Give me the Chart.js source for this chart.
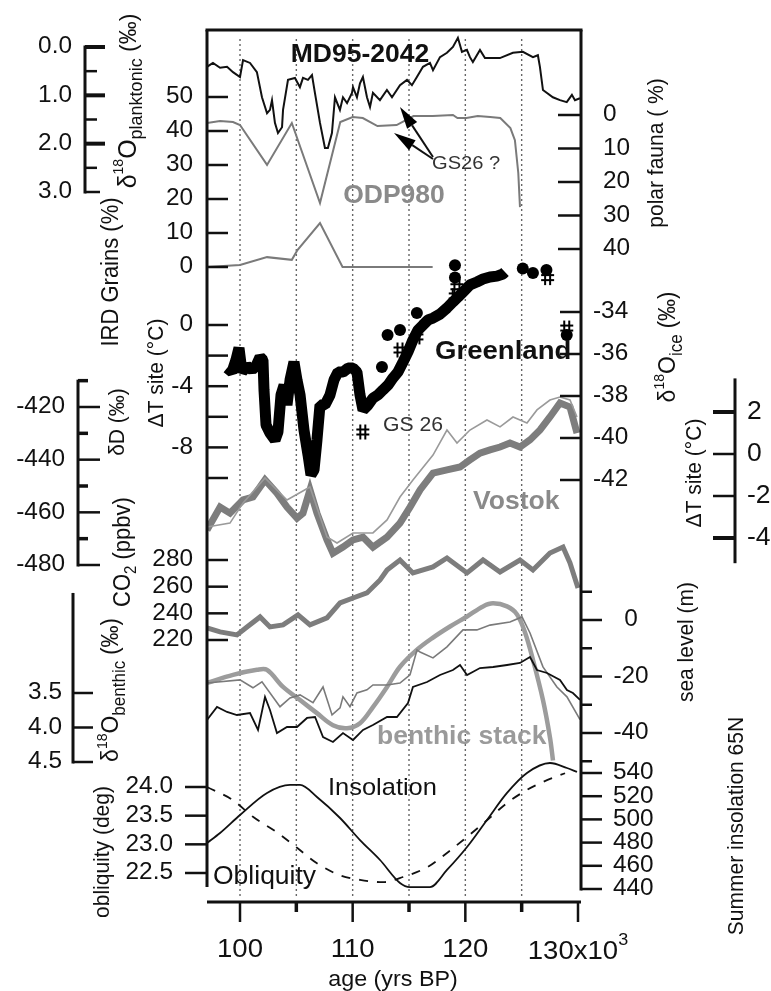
<!DOCTYPE html>
<html><head><meta charset="utf-8">
<script src="https://cdn.jsdelivr.net/npm/chart.js@4.4.0/dist/chart.umd.min.js"></script>
<style>html,body{margin:0;padding:0;background:#fff}canvas{display:block}</style>
</head><body>
<canvas id="c" width="771" height="991"></canvas>
<script>
// ---------------- DATA (age in kyr BP, value) ----------------
const planktonic = [[97.07,0.41],[97.6,0.33],[98.23,0.43],[98.85,0.41],[99.38,0.52],[100.0,0.62],[100.27,0.27],[100.89,0.33],[101.5,0.52],[101.95,1.04],[102.4,1.37],[102.66,1.30],[102.84,1.10],[103.1,1.57],[103.37,1.78],[103.73,1.66],[103.82,1.30],[104.26,0.68],[104.88,0.64],[105.32,0.83],[105.59,0.64],[106.03,0.68],[106.39,0.58],[106.65,0.95],[107.1,1.57],[107.54,2.09],[107.8,2.09],[108.16,1.78],[108.43,1.04],[108.87,1.30],[109.14,1.04],[109.5,1.16],[109.94,0.95],[110.03,0.83],[110.38,1.04],[110.65,0.75],[110.91,0.62],[111.27,1.04],[111.54,1.24],[111.8,0.95],[112.42,1.10],[113.04,0.89],[113.49,1.04],[114.2,0.79],[114.82,0.68],[115.26,0.79],[115.7,0.62],[116.24,0.41],[116.86,0.33],[117.13,0.48],[117.75,0.21],[118.37,0.12],[118.9,0.0],[119.34,-0.19],[119.7,0.10],[120.14,0.06],[120.41,0.21],[120.67,0.31],[121.3,0.06],[121.74,0.23],[122.18,0.23],[123.07,0.23],[124.22,0.12],[125.11,0.10],[126.0,0.21],[126.44,0.17],[126.62,0.41],[126.89,0.89],[127.77,1.04],[128.4,1.10],[129.0,1.14],[129.46,0.99],[129.73,1.10],[130.17,1.06]];
const polarFauna = [[97.07,2.4],[98.23,1.8],[99.38,2.1],[100.0,3.0],[102.4,14.9],[104.6,2.4],[107.1,26.3],[108.9,2.1],[110.0,0.6],[110.9,0.9],[112.2,3.3],[113.9,3.0],[115.4,0.3],[117.1,0.3],[118.9,0.0],[119.3,0.9],[120.1,0.9],[121.1,0.3],[122.2,0.6],[123.1,0.9],[124.0,3.9],[124.4,7.5],[124.7,17.3],[124.85,27.5]];
const irdGrains = [[97.07,0],[100.0,0.6],[102.4,2.9],[104.6,2.1],[105.1,5.0],[107.1,12.9],[109.1,0],[113.0,0],[117.1,0]];
const greenlandD18O = [[98.85,-36.67],[99.29,-36.86],[99.64,-36.29],[99.91,-35.71],[100.18,-36.86],[100.62,-36.57],[101.07,-36.76],[101.42,-36.57],[101.78,-36.14],[102.04,-36.29],[102.13,-37.71],[102.31,-39.38],[102.66,-39.76],[103.11,-40.10],[103.37,-39.71],[103.64,-37.95],[103.91,-37.48],[104.17,-38.43],[104.44,-37.24],[104.79,-36.38],[105.06,-37.24],[105.33,-37.95],[105.68,-39.62],[106.04,-40.81],[106.30,-41.76],[106.57,-41.52],[106.83,-40.10],[107.10,-38.43],[107.54,-38.43],[107.99,-37.95],[108.34,-37.24],[108.70,-36.86],[109.14,-36.86],[109.59,-36.67],[110.03,-36.67],[110.38,-36.86],[110.65,-37.95],[110.92,-38.67],[111.36,-38.43],[111.80,-38.10],[112.25,-37.95],[112.69,-37.71],[113.14,-37.48],[113.58,-37.14],[114.02,-36.86],[114.47,-36.38],[114.91,-35.90],[115.35,-35.33],[115.80,-34.86],[116.24,-34.62],[116.69,-34.38],[117.13,-34.29],[117.75,-34.10],[118.37,-33.81],[118.90,-33.52],[119.35,-33.29],[119.79,-33.05],[120.41,-32.71],[121.03,-32.57],[121.57,-32.43],[122.19,-32.33],[122.81,-32.29],[123.34,-32.19],[123.52,-32.10]];
const greenlandDots = [[119.08,3.9],[119.08,3.1],[125.1,3.7],[126.0,3.4],[127.2,3.6],[129.0,-0.65],[115.7,0.78],[114.2,-0.33],[113.1,-0.65],[112.6,-2.75]];
const greenlandHash = [[119.25,2.5],[119.1,1.9],[127.3,3.1],[129.0,-0.2],[114.2,-1.63],[115.7,-0.78],[110.9,-6.99]];
const vostokDD = [[97.07,-466.7],[98.23,-458.0],[99.11,-460.3],[100.27,-455.3],[101.15,-454.2],[102.22,-447.7],[103.28,-452.7],[104.17,-458.0],[105.06,-462.2],[105.59,-460.3],[106.21,-451.5],[106.83,-460.3],[107.72,-470.5],[108.25,-475.5],[109.14,-473.2],[110.03,-470.5],[110.92,-469.4],[111.80,-473.2],[113.05,-469.4],[114.20,-464.1],[115.09,-458.0],[115.98,-451.5],[117.13,-445.1],[118.37,-443.9],[119.53,-442.8],[120.41,-440.1],[121.30,-437.5],[122.19,-436.3],[123.08,-435.2],[123.96,-433.7],[124.85,-435.2],[125.74,-432.5],[126.63,-428.7],[127.51,-423.8],[128.40,-418.5],[129.29,-420.0],[129.91,-429.9]];
const vostokDT = [[97.07,-3.48],[99.11,-3.29],[100.27,-2.33],[102.22,-1.14],[104.17,-2.19],[106.21,-1.57],[107.72,-3.95],[108.61,-4.24],[110.03,-3.76],[111.80,-3.76],[113.05,-3.14],[114.20,-2.05],[115.35,-1.24],[117.13,-0.05],[118.37,1.14],[119.26,0.52],[120.41,1.14],[121.92,1.62],[123.08,1.29],[124.23,1.76],[125.47,1.48],[126.36,2.10],[127.51,2.57],[128.40,2.71],[129.29,2.57],[129.91,1.76]];
const co2 = [[97.07,229.1],[98.23,226.1],[99.73,223.8],[100.62,229.8],[101.78,237.3],[102.66,229.8],[103.82,231.3],[105.15,238.8],[106.21,231.3],[107.72,236.6],[108.88,247.8],[110.03,251.5],[111.27,255.3],[112.43,265.0],[113.05,272.5],[114.20,280.0],[115.35,270.3],[117.13,274.8],[118.37,281.5],[120.15,270.3],[121.57,280.0],[123.08,271.0],[124.85,280.0],[126.00,272.5],[127.51,285.2],[128.67,289.7],[129.29,277.8],[130.0,259.0]];
const benthicStack = [[97.07,3.354],[99.38,3.237],[101.51,3.164],[102.40,3.164],[103.82,3.412],[105.33,3.602],[106.83,3.792],[108.25,3.967],[109.50,4.011],[110.65,3.938],[111.80,3.704],[113.05,3.412],[114.20,3.120],[115.71,2.872],[117.13,2.697],[118.64,2.536],[120.15,2.391],[121.57,2.245],[122.46,2.201],[123.70,2.245],[124.59,2.361],[125.30,2.624],[126.00,3.018],[126.89,3.602],[127.51,4.142],[127.78,4.478]];
const seaLevel = [[97.07,-22.3],[100.0,-21.2],[101.15,-24.0],[101.95,-21.9],[103.55,-30.7],[104.44,-27.6],[105.33,-26.5],[106.48,-29.3],[107.37,-23.7],[108.17,-33.6],[108.88,-31.1],[109.14,-27.2],[109.76,-30.7],[110.38,-25.8],[111.27,-24.7],[111.80,-23.0],[113.05,-23.0],[114.20,-22.3],[115.09,-19.4],[115.71,-10.6],[115.98,-11.3],[117.13,-13.4],[118.37,-9.5],[119.79,-3.5],[121.03,-3.5],[122.19,-1.8],[123.96,-0.7],[125.03,1.1],[125.74,-4.6],[126.89,-16.6],[128.13,-23.7],[129.02,-27.2],[130.18,-35.3]];
const benthicMD = [[97.07,3.891],[97.96,3.703],[98.85,3.775],[99.73,3.819],[100.89,3.790],[101.60,4.036],[102.22,3.558],[102.66,3.746],[103.28,4.080],[104.17,3.993],[105.06,3.993],[105.95,3.862],[106.66,3.848],[107.37,4.138],[108.25,4.210],[109.14,4.080],[110.03,4.181],[110.92,4.036],[111.80,3.964],[113.05,3.848],[113.93,3.848],[114.91,3.645],[115.35,3.413],[116.60,3.341],[117.75,3.239],[118.90,3.167],[119.53,3.094],[120.15,3.239],[121.30,3.138],[122.46,3.123],[123.70,3.094],[124.85,3.065],[125.74,2.978],[126.36,3.167],[127.25,3.210],[128.40,3.312],[129.02,3.457],[129.55,3.5],[130.18,3.601]];
const insolation = [[97.07,479.7],[98.23,488.3],[100.0,503.8],[102.40,522.8],[104.44,529.7],[105.33,529.7],[106.83,519.3],[108.88,501.2],[110.65,482.2],[112.43,465.0],[114.20,445.2],[115.09,441.7],[116.86,441.7],[118.37,456.4],[120.15,476.2],[121.92,499.5],[123.70,522.8],[125.47,540.0],[127.51,548.6],[129.02,544.3],[129.91,540.9]];
const obliquity = [[97.07,24.0],[99.38,23.77],[101.15,23.48],[103.28,23.21],[105.06,22.94],[106.83,22.67],[108.88,22.46],[110.65,22.38],[112.69,22.34],[114.47,22.43],[116.60,22.60],[118.37,22.85],[120.15,23.13],[121.92,23.42],[123.70,23.72],[125.47,23.95],[127.25,24.12],[128.85,24.24]];

// ---------------- TICKS ----------------
const ageTicks = [100,110,120,130], ageMinor = [105,115,125], gridAges = [100,105,110,115,120,125];
const plankTicks = [0,1,2,3], plankMinor = [0.5,1.5,2.5];
const irdTicks = [0,10,20,30,40,50];
const tGreenTicks = [0,-4,-8], tGreenMinor = [-2,-6,-10];
const dDTicks = [-420,-440,-460,-480], dDMinor = [-410,-430,-450,-470];
const co2Ticks = [280,260,240,220];
const benthicTicks = [3.5,4.0,4.5];
const oblTicks = [24.0,23.5,23.0,22.5];
const polarTicks = [0,10,20,30,40];
const iceTicks = [-34,-36,-38,-40,-42];
const tVostokTicks = [2,0,-2,-4];
const seaTicks = [0,-20,-40], seaMinor = [10,-10,-30,-50];
const insolTicks = [540,520,500,480,460,440];

// ---------------- LAYOUT ----------------
const LEFT=207, RIGHT=581, TOP=30, BOT=902, CW=771, CH=991;
const FONT = '"Liberation Sans", Arial, Helvetica, sans-serif';
const SX = 1.06;
function fitY(v0,p0,v1,p1){const s=(v1-v0)/(p1-p0);const vt=v0+(TOP-p0)*s, vb=v0+(BOT-p0)*s;
  return vt>vb?{min:vb,max:vt,reverse:false}:{min:vt,max:vb,reverse:true};}
const xs=(130-100)/(578-240);
const calib = {
  yPlank: fitY(0,47,3,192), yIRD: fitY(0,267,50,97), yPolar: fitY(0,115,40,249),
  yIce: fitY(-34,312,-42,480), yTg: fitY(0,325,-10,478), yDD: fitY(-420,407,-480,565),
  yTv: fitY(2,412,-4,538), yCO2: fitY(280,560,220,640), yBen: fitY(3.5,693,4.5,762),
  ySea: fitY(0,620,-40,733), yIns: fitY(540,773,440,889), yObl: fitY(24,787,22.5,873)
};
const scales = {x:{type:'linear',display:false,bounds:'data',min:100+(LEFT-240)*xs,max:100+(RIGHT-240)*xs}};
for (const k in calib) scales[k] = Object.assign({type:'linear',display:false,bounds:'data'}, calib[k]);

function ds(arr, y, color, w, extra){
  return Object.assign({data:arr.map(p=>({x:p[0],y:p[1]})), xAxisID:'x', yAxisID:y, borderColor:color,
    backgroundColor:color, borderWidth:w, pointRadius:0, fill:false, tension:0}, extra||{});
}
const hashImg = document.createElement('canvas'); hashImg.width=15; hashImg.height=17;
(function(){const h=hashImg.getContext('2d');h.strokeStyle='#000';h.lineWidth=2;h.beginPath();
  h.moveTo(5,1);h.lineTo(5,16);h.moveTo(10,1);h.lineTo(10,16);h.moveTo(1,6);h.lineTo(14,6);h.moveTo(1,11);h.lineTo(14,11);h.stroke();})();

// ---------------- TEXT HELPERS ----------------
function T(ctx,s,x,y,o){o=o||{};ctx.save();ctx.translate(x,y);ctx.scale(SX,1);if(o.rot)ctx.rotate(-Math.PI/2);
  ctx.font=(o.weight||'normal')+' '+(o.size||23)+'px '+FONT;ctx.fillStyle=o.color||'#111';
  ctx.textAlign=o.align||'left';ctx.textBaseline='middle';ctx.fillText(s,0,0);ctx.restore();}
function R(ctx,segs,cx,cy,rot,base,color){let tot=0;const ws=segs.map(s=>{ctx.font=(s.w||'normal')+' '+s.s+'px '+FONT;const w=ctx.measureText(s.t).width;tot+=w;return w;});
  ctx.save();ctx.translate(cx,cy);ctx.scale(SX,1);if(rot)ctx.rotate(-Math.PI/2);ctx.fillStyle=color||'#111';
  ctx.textAlign='left';ctx.textBaseline='alphabetic';let x=-tot/2;
  segs.forEach((s,i)=>{ctx.font=(s.w||'normal')+' '+s.s+'px '+FONT;ctx.fillText(s.t,x,base+(s.dy||0));x+=ws[i];});ctx.restore();}
function line(ctx,x0,y0,x1,y1,w){ctx.lineWidth=w;ctx.beginPath();ctx.moveTo(x0,y0);ctx.lineTo(x1,y1);ctx.stroke();}
function tk(ctx,sc,x,vals,len,w){vals.forEach(v=>{const y=sc.getPixelForValue(v);line(ctx,x,y,x+len,y,w);});}
function lb(ctx,sc,vals,x,align,fmt,size){vals.forEach(v=>T(ctx,fmt?fmt(v):String(v),x,sc.getPixelForValue(v),{size:size||23,align:align}));}
function arrow(ctx,x0,y0,x1,y1){const a=Math.atan2(y1-y0,x1-x0),L=22,Wd=6;const bx=x1-L*Math.cos(a),by=y1-L*Math.sin(a);
  line(ctx,x0,y0,bx,by,2);ctx.beginPath();ctx.moveTo(x1,y1);ctx.lineTo(bx+Wd*Math.sin(a),by-Wd*Math.cos(a));ctx.lineTo(bx-Wd*Math.sin(a),by+Wd*Math.cos(a));ctx.closePath();ctx.fillStyle='#000';ctx.fill();}

const decor = {
  id:'decor',
  beforeDatasetsDraw(chart){
    const ctx=chart.ctx, s=chart.scales; ctx.save(); ctx.strokeStyle='#666'; ctx.setLineDash([2,3]);
    gridAges.forEach(a=>{const x=s.x.getPixelForValue(a);line(ctx,x,TOP+9,x,BOT-5,1.4);}); ctx.restore();
  },
  afterDatasetsDraw(chart){
    const ctx=chart.ctx, s=chart.scales, ca=chart.chartArea; ctx.save(); ctx.strokeStyle='#111'; ctx.setLineDash([]); ctx.lineCap='butt';
    // frame
    line(ctx,ca.left-1.5,ca.top,ca.right+1.5,ca.top,3);
    line(ctx,ca.left,ca.top,ca.left,s.yObl.getPixelForValue(22.5)+14,3);
    line(ctx,ca.right,ca.top,ca.right,s.yIns.getPixelForValue(440)+1.5,3);
    line(ctx,ca.left,ca.bottom,ca.right,ca.bottom,3);
    ageTicks.forEach(a=>{const x=s.x.getPixelForValue(a);line(ctx,x,ca.bottom,x,ca.bottom+20,2.5);});
    ageMinor.forEach(a=>{const x=s.x.getPixelForValue(a);line(ctx,x,ca.bottom,x,ca.bottom+10,3.5);});
    ageTicks.forEach(a=>{const x=s.x.getPixelForValue(a);
      if(a===130) R(ctx,[{t:'130x10',s:26},{t:'3',s:17,dy:-14}],x,950,false,9);
      else T(ctx,String(a),x,950,{size:26,align:'center'});});
    T(ctx,'age (yrs BP)',393,980,{size:22,align:'center'});
    // left main spine axes
    tk(ctx,s.yIRD,ca.left,irdTicks,21,2.5); lb(ctx,s.yIRD,irdTicks,ca.left-14,'right');
    tk(ctx,s.yTg,ca.left,tGreenTicks.concat(tGreenMinor),21,2.5); lb(ctx,s.yTg,tGreenTicks,ca.left-14,'right');
    tk(ctx,s.yCO2,ca.left,co2Ticks,21,2.5); lb(ctx,s.yCO2,co2Ticks,ca.left-14,'right');
    tk(ctx,s.yObl,ca.left,oblTicks,-22,2.5); lb(ctx,s.yObl,oblTicks,ca.left-34,'right',v=>v.toFixed(1));
    // right main spine axes
    tk(ctx,s.yPolar,ca.right,polarTicks,-23,2.5); lb(ctx,s.yPolar,polarTicks,ca.right+22,'left');
    tk(ctx,s.yIce,ca.right,iceTicks,-21,2.5); lb(ctx,s.yIce,iceTicks,ca.right+12,'left');
    tk(ctx,s.ySea,ca.right,seaTicks,21,2.5); tk(ctx,s.ySea,ca.right,seaMinor,11,2.5); lb(ctx,s.ySea,seaTicks,ca.right+50,'center');
    tk(ctx,s.yIns,ca.right,insolTicks,21,2.5); lb(ctx,s.yIns,insolTicks,ca.right+32,'left');
    // floating planktonic axis
    const xp=85; line(ctx,xp,s.yPlank.getPixelForValue(0)-1.5,xp,s.yPlank.getPixelForValue(3)+1.5,3);
    tk(ctx,s.yPlank,xp,[0,1,2],20,4); tk(ctx,s.yPlank,xp,plankMinor,12,2.5); tk(ctx,s.yPlank,xp,[3],15,2.5);
    lb(ctx,s.yPlank,plankTicks,72,'right',v=>v.toFixed(1));
    // floating dD axis
    const xd=78; line(ctx,xd,s.yDD.getPixelForValue(-410)-1,xd,s.yDD.getPixelForValue(-480)+1.5,3);
    tk(ctx,s.yDD,xd,dDTicks,22,2.5); tk(ctx,s.yDD,xd,dDMinor,10,3.5); lb(ctx,s.yDD,dDTicks,65,'right');
    // floating benthic axis
    const xb=73; line(ctx,xb,s.yBen.getPixelForValue(2.05),xb,s.yBen.getPixelForValue(4.5)+1.5,3);
    tk(ctx,s.yBen,xb,benthicTicks,20,2.5); lb(ctx,s.yBen,benthicTicks,62,'right',v=>v.toFixed(1));
    // floating Vostok dT axis (right)
    const xv=735; line(ctx,xv,s.yTv.getPixelForValue(3.6),xv,s.yTv.getPixelForValue(-5.2),3);
    tk(ctx,s.yTv,xv,[2,-4],-22,4); tk(ctx,s.yTv,xv,[0,-2],-22,2.5); lb(ctx,s.yTv,tVostokTicks,747,'left',null,25);
    // axis titles
    R(ctx,[{t:'δ',s:25},{t:'18',s:14,dy:-12},{t:'O',s:25},{t:'planktonic',s:18,dy:6},{t:' (‰)',s:23}],126,101,true,9);
    T(ctx,'IRD Grains (%)',112,272,{size:22,rot:true,align:'center'});
    T(ctx,'ΔT site (°C)',157,373,{size:21,rot:true,align:'center'});
    T(ctx,'δD (‰)',118,422,{size:21,rot:true,align:'center'});
    R(ctx,[{t:'CO',s:22},{t:'2',s:15,dy:5},{t:' (ppbv)',s:22}],122,552,true,8);
    R(ctx,[{t:'δ',s:23},{t:'18',s:14,dy:-11},{t:'O',s:23},{t:'benthic',s:17,dy:6},{t:' (‰)',s:22}],110,690,true,8);
    T(ctx,'obliquity (deg)',103,852,{size:21,rot:true,align:'center'});
    T(ctx,'polar fauna ( %)',657,153,{size:21,rot:true,align:'center'});
    R(ctx,[{t:'δ',s:23},{t:'18',s:14,dy:-11},{t:'O',s:23},{t:'ice',s:17,dy:6},{t:' (‰)',s:22}],667,347,true,8);
    T(ctx,'ΔT site (°C)',695,473,{size:21,rot:true,align:'center'});
    T(ctx,'sea level (m)',687,642,{size:21,rot:true,align:'center'});
    T(ctx,'Summer insolation 65N',737,826,{size:21,rot:true,align:'center'});
    // annotations
    T(ctx,'MD95-2042',360,55,{size:25,weight:'bold',align:'center'});
    T(ctx,'ODP980',394,196,{size:25,weight:'bold',color:'#8a8a8a',align:'center'});
    T(ctx,'GS26 ?',432,164,{size:19,color:'#333'});
    arrow(ctx,433,157,400,107); arrow(ctx,433,159,394,133);
    T(ctx,'Greenland',435,352,{size:26,weight:'bold'});
    T(ctx,'GS 26',383,425,{size:20,color:'#333'});
    T(ctx,'Vostok',473,502,{size:25,weight:'bold',color:'#8a8a8a'});
    T(ctx,'benthic stack',377,737,{size:25,weight:'bold',color:'#9a9a9a'});
    T(ctx,'Insolation',328,788,{size:24});
    T(ctx,'Obliquity',213,877,{size:25});
    ctx.restore();
  }
};

new Chart(document.getElementById('c'), {
  type:'line',
  data:{datasets:[
    ds(greenlandDots,'yTg','#000',0,{showLine:false,pointRadius:6,pointStyle:'circle',pointBorderWidth:0}),
    ds(greenlandHash,'yTg','#000',0,{showLine:false,pointRadius:8,pointStyle:hashImg}),
    ds(planktonic,'yPlank','#111',2),
    ds(polarFauna,'yPolar','#7a7a7a',2),
    ds(irdGrains,'yIRD','#7a7a7a',2),
    ds(greenlandD18O,'yIce','#000',11,{borderJoinStyle:'bevel'}),
    ds(vostokDT,'yTv','#9a9a9a',1.6),
    ds(vostokDD,'yDD','#7d7d7d',7),
    ds(co2,'yCO2','#7d7d7d',5),
    ds(benthicMD,'yBen','#111',1.8),
    ds(seaLevel,'ySea','#7a7a7a',1.6),
    ds(benthicStack,'yBen','#9c9c9c',4.5,{tension:0.35}),
    ds(insolation,'yIns','#111',1.8,{cubicInterpolationMode:'monotone'}),
    ds(obliquity,'yObl','#111',1.8,{cubicInterpolationMode:'monotone',borderDash:[9,9]})
  ]},
  options:{
    responsive:false, animation:false, events:[],
    layout:{padding:{left:LEFT,right:CW-RIGHT,top:TOP,bottom:CH-BOT}},
    plugins:{legend:{display:false},tooltip:{enabled:false},title:{display:false}},
    scales:scales
  },
  plugins:[decor]
});
</script>
</body></html>
